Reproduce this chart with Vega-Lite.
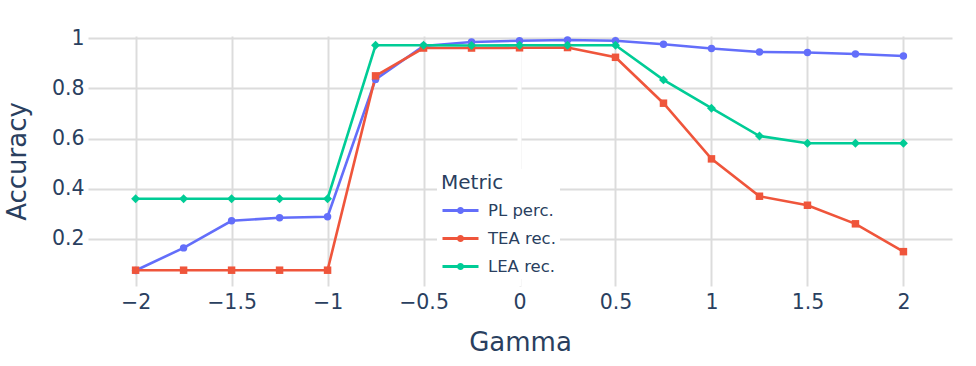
{
  "$schema": "https://vega.github.io/schema/vega-lite/v6.json",
  "width": 864,
  "height": 250,
  "autosize": {"type": "none"},
  "padding": {"left": 88, "top": 36, "right": 24, "bottom": 80},
  "background": "white",
  "config": {
    "view": {"stroke": null},
    "font": "DejaVu Sans",
    "axis": {
      "domain": false,
      "ticks": false,
      "grid": true,
      "gridColor": "#dcdcdc",
      "gridWidth": 2,
      "labelFont": "DejaVu Sans",
      "labelFontSize": 20.5,
      "labelColor": "#2a3f5f",
      "titleFont": "DejaVu Sans",
      "titleFontSize": 26,
      "titleFontWeight": "normal",
      "titleColor": "#2a3f5f"
    },
    "axisX": {"labelPadding": 6, "titlePadding": 17},
    "axisY": {"labelPadding": 4, "titlePadding": 21},
    "legend": {
      "orient": "none",
      "legendX": 349,
      "legendY": 133,
      "fillColor": "white",
      "padding": 4,
      "titleFont": "DejaVu Sans",
      "titleFontSize": 20,
      "titleFontWeight": "normal",
      "titleColor": "#2a3f5f",
      "titlePadding": -2,
      "labelFont": "DejaVu Sans",
      "labelFontSize": 16.5,
      "labelColor": "#2a3f5f",
      "labelOffset": 8,
      "rowPadding": -2.5
    }
  },
  "data": {
    "values": [
      {"g": -2, "m": "PL perc.", "v": 0.074},
      {"g": -1.75, "m": "PL perc.", "v": 0.164},
      {"g": -1.5, "m": "PL perc.", "v": 0.272},
      {"g": -1.25, "m": "PL perc.", "v": 0.284},
      {"g": -1, "m": "PL perc.", "v": 0.288},
      {"g": -0.75, "m": "PL perc.", "v": 0.836},
      {"g": -0.5, "m": "PL perc.", "v": 0.969},
      {"g": -0.25, "m": "PL perc.", "v": 0.985},
      {"g": 0, "m": "PL perc.", "v": 0.99},
      {"g": 0.25, "m": "PL perc.", "v": 0.993},
      {"g": 0.5, "m": "PL perc.", "v": 0.99},
      {"g": 0.75, "m": "PL perc.", "v": 0.976},
      {"g": 1, "m": "PL perc.", "v": 0.959},
      {"g": 1.25, "m": "PL perc.", "v": 0.945},
      {"g": 1.5, "m": "PL perc.", "v": 0.943},
      {"g": 1.75, "m": "PL perc.", "v": 0.937},
      {"g": 2, "m": "PL perc.", "v": 0.929},
      {"g": -2, "m": "TEA rec.", "v": 0.075},
      {"g": -1.75, "m": "TEA rec.", "v": 0.075},
      {"g": -1.5, "m": "TEA rec.", "v": 0.075},
      {"g": -1.25, "m": "TEA rec.", "v": 0.075},
      {"g": -1, "m": "TEA rec.", "v": 0.075},
      {"g": -0.75, "m": "TEA rec.", "v": 0.85},
      {"g": -0.5, "m": "TEA rec.", "v": 0.961},
      {"g": -0.25, "m": "TEA rec.", "v": 0.961},
      {"g": 0, "m": "TEA rec.", "v": 0.962},
      {"g": 0.25, "m": "TEA rec.", "v": 0.963},
      {"g": 0.5, "m": "TEA rec.", "v": 0.924},
      {"g": 0.75, "m": "TEA rec.", "v": 0.741},
      {"g": 1, "m": "TEA rec.", "v": 0.519},
      {"g": 1.25, "m": "TEA rec.", "v": 0.37},
      {"g": 1.5, "m": "TEA rec.", "v": 0.334},
      {"g": 1.75, "m": "TEA rec.", "v": 0.26},
      {"g": 2, "m": "TEA rec.", "v": 0.149},
      {"g": -2, "m": "LEA rec.", "v": 0.36},
      {"g": -1.75, "m": "LEA rec.", "v": 0.36},
      {"g": -1.5, "m": "LEA rec.", "v": 0.36},
      {"g": -1.25, "m": "LEA rec.", "v": 0.36},
      {"g": -1, "m": "LEA rec.", "v": 0.36},
      {"g": -0.75, "m": "LEA rec.", "v": 0.972},
      {"g": -0.5, "m": "LEA rec.", "v": 0.972},
      {"g": -0.25, "m": "LEA rec.", "v": 0.971},
      {"g": 0, "m": "LEA rec.", "v": 0.972},
      {"g": 0.25, "m": "LEA rec.", "v": 0.972},
      {"g": 0.5, "m": "LEA rec.", "v": 0.972},
      {"g": 0.75, "m": "LEA rec.", "v": 0.834},
      {"g": 1, "m": "LEA rec.", "v": 0.721},
      {"g": 1.25, "m": "LEA rec.", "v": 0.61},
      {"g": 1.5, "m": "LEA rec.", "v": 0.581},
      {"g": 1.75, "m": "LEA rec.", "v": 0.581},
      {"g": 2, "m": "LEA rec.", "v": 0.581}
    ]
  },
  "encoding": {
    "x": {
      "field": "g",
      "type": "quantitative",
      "title": "Gamma",
      "scale": {"domain": [-2.248, 2.253], "nice": false, "zero": false},
      "axis": {"values": [-2, -1.5, -1, -0.5, 0, 0.5, 1, 1.5, 2], "format": ".1~f"}
    },
    "y": {
      "field": "v",
      "type": "quantitative",
      "title": "Accuracy",
      "scale": {"domain": [0.012, 1.009], "nice": false, "zero": false},
      "axis": {"values": [0.2, 0.4, 0.6, 0.8, 1], "format": ".1~f"}
    }
  },
  "layer": [
    {
      "data": {"values": [{"z": 0}]},
      "mark": {"type": "rule", "color": "white", "strokeWidth": 4},
      "encoding": {
        "x": {"field": "z", "type": "quantitative"},
        "y": null
      }
    },
    {
      "mark": {"type": "line", "strokeWidth": 2.6},
      "encoding": {
        "color": {
          "field": "m",
          "type": "nominal",
          "title": "Metric",
          "scale": {"domain": ["PL perc.", "TEA rec.", "LEA rec."], "range": ["#636efa", "#EF553B", "#00cc96"]},
          "legend": {
            "symbolType": "M-1,0L1,0M0.12,0A0.12,0.12 0 1,1 -0.12,0A0.12,0.12 0 1,1 0.12,0Z",
            "symbolSize": 1296,
            "symbolStrokeWidth": 2.8
          }
        }
      }
    },
    {
      "transform": [{"filter": {"field": "m", "equal": "PL perc."}}],
      "mark": {"type": "point", "shape": "circle", "filled": true, "opacity": 1, "size": 55, "color": "#636efa", "strokeWidth": 0}
    },
    {
      "transform": [{"filter": {"field": "m", "equal": "TEA rec."}}],
      "mark": {"type": "point", "shape": "square", "filled": true, "opacity": 1, "size": 56, "color": "#EF553B", "strokeWidth": 0}
    },
    {
      "transform": [{"filter": {"field": "m", "equal": "LEA rec."}}],
      "mark": {"type": "point", "shape": "diamond", "filled": true, "opacity": 1, "size": 80, "color": "#00cc96", "strokeWidth": 0}
    }
  ]
}
